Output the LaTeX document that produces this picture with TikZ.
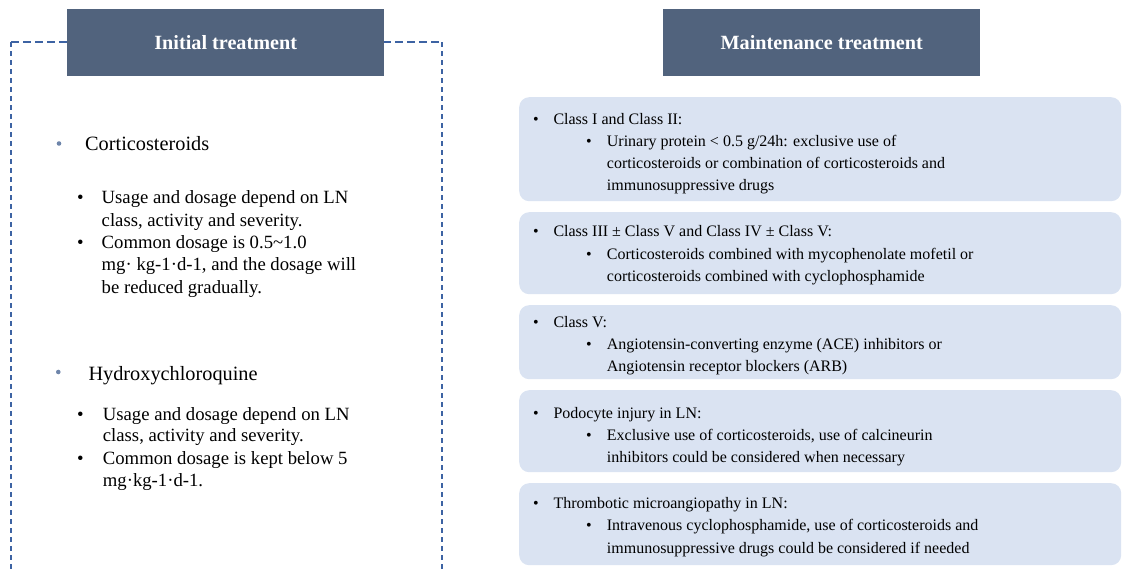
\documentclass[tikz,border=0pt]{standalone}
\usepackage{fontspec}
\setmainfont{Liberation Serif}
\definecolor{titlefill}{HTML}{51637D}
\definecolor{dashblue}{HTML}{3D63A3}
\definecolor{boxfill}{HTML}{DAE3F2}
\definecolor{headbullet}{HTML}{6E85AA}
\tikzset{
  titlebox/.style={fill=titlefill, draw=none, minimum width=317pt, minimum height=67pt, inner sep=0pt, anchor=north west, font=\fontsize{20.2}{24}\selectfont\bfseries, text=white},
  itembox/.style={fill=boxfill, draw=none, rounded corners=10pt, minimum width=602pt, inner sep=0pt, anchor=north west},
  rtxt/.style={anchor=base west, inner sep=0pt, font=\fontsize{16}{20}\selectfont},
  rbul/.style={anchor=base, inner sep=0pt, font=\fontsize{16}{20}\selectfont},
  ltxt/.style={anchor=base west, inner sep=0pt, font=\fontsize{18.7}{22}\selectfont},
  lbul/.style={anchor=base, inner sep=0pt, font=\fontsize{18.7}{22}\selectfont},
  lhead/.style={anchor=base west, inner sep=0pt, font=\fontsize{20.3}{24}\selectfont},
  hdot/.style={circle, fill=headbullet, draw=none, inner sep=0pt, minimum size=4.6pt},
  dashh/.style={draw=dashblue, line width=1.4pt, dash pattern=on 7.5pt off 4.5pt},
  dashv/.style={draw=dashblue, line width=1.4pt, dash pattern=on 5pt off 4pt},
}
\begin{document}
\begin{tikzpicture}[x=1pt,y=-1pt]
\useasboundingbox (0,0) rectangle (1122,570);
% dashed frame
\coordinate (fl0) at (11,570);
\coordinate (fl1) at (11,42);
\coordinate (fr1) at (442,42);
\coordinate (fr0) at (442,570);
\draw[dashh] (fl1) -- (fr1);
\draw[dashv] (fl1) -- (fl0);
\draw[dashv] (fr1) -- (fr0);
% titles
\node[titlebox] (tinit) at (67,9) {Initial treatment};
\node[titlebox] (tmaint) at (663,9) {Maintenance treatment};
% left column
\node[hdot] (hd1) at (59,143.5) {};
\node[lhead] (h1) at (85,150.7) {Corticosteroids};
\node[lbul] (l1b1) at (80.5,203.3) {•};
\node[ltxt] (l1a) at (101.5,203.3) {Usage and dosage depend on LN};
\node[ltxt] (l1b) at (101.5,226) {class, activity and severity.};
\node[lbul] (l1b2) at (80.5,248.3) {•};
\node[ltxt] (l1c) at (101.5,248.3) {Common dosage is 0.5\textasciitilde1.0};
\node[ltxt] (l1d) at (101.5,270.7) {mg· kg-1·d-1, and the dosage will};
\node[ltxt] (l1e) at (101.5,293.3) {be reduced gradually.};
\node[hdot] (hd2) at (58.3,372) {};
\node[lhead] (h2) at (88.3,380.5) {Hydroxychloroquine};
\node[lbul] (l2b1) at (80.5,420) {•};
\node[ltxt] (l2a) at (102.7,420) {Usage and dosage depend on LN};
\node[ltxt] (l2b) at (102.7,441.8) {class, activity and severity.};
\node[lbul] (l2b2) at (80.5,464) {•};
\node[ltxt] (l2c) at (102.7,464) {Common dosage is kept below 5};
\node[ltxt] (l2d) at (102.7,486.3) {mg·kg-1·d-1.};
% right boxes
\node[itembox, minimum height=104pt] (b1) at (519,97) {};
\node[itembox, minimum height=82pt] (b2) at (519,212) {};
\node[itembox, minimum height=74pt] (b3) at (519,305) {};
\node[itembox, minimum height=82pt] (b4) at (519,390) {};
\node[itembox, minimum height=82pt] (b5) at (519,483) {};
% box 1
\node[rbul] (b1p) at (536,124) {•};
\node[rtxt] (b1t) at (553.3,124) {Class I and Class II:};
\node[rbul] (b1q) at (589,146) {•};
\node[rtxt] (b1u) at (606.7,146) {Urinary protein < 0.5 g/24h: exclusive use of};
\node[rtxt] (b1v) at (606.7,168.2) {corticosteroids or combination of corticosteroids and};
\node[rtxt] (b1w) at (606.7,190.5) {immunosuppressive drugs};
% box 2
\node[rbul] (b2p) at (536,236.5) {•};
\node[rtxt] (b2t) at (553.3,236.5) {Class III ± Class V and Class IV ± Class V:};
\node[rbul] (b2q) at (589,259) {•};
\node[rtxt] (b2u) at (606.7,259) {Corticosteroids combined with mycophenolate mofetil or};
\node[rtxt] (b2v) at (606.7,281.5) {corticosteroids combined with cyclophosphamide};
% box 3
\node[rbul] (b3p) at (536,327) {•};
\node[rtxt] (b3t) at (553.3,327) {Class V:};
\node[rbul] (b3q) at (589,349) {•};
\node[rtxt] (b3u) at (606.7,349) {Angiotensin-converting enzyme (ACE) inhibitors or};
\node[rtxt] (b3v) at (606.7,371.5) {Angiotensin receptor blockers (ARB)};
% box 4
\node[rbul] (b4p) at (536,418.3) {•};
\node[rtxt] (b4t) at (553.3,418.3) {Podocyte injury in LN:};
\node[rbul] (b4q) at (589,440) {•};
\node[rtxt] (b4u) at (606.7,440) {Exclusive use of corticosteroids, use of calcineurin};
\node[rtxt] (b4v) at (606.7,462) {inhibitors could be considered when necessary};
% box 5
\node[rbul] (b5p) at (536,508.5) {•};
\node[rtxt] (b5t) at (553.3,508.5) {Thrombotic microangiopathy in LN:};
\node[rbul] (b5q) at (589,530.5) {•};
\node[rtxt] (b5u) at (606.7,530.5) {Intravenous cyclophosphamide, use of corticosteroids and};
\node[rtxt] (b5v) at (606.7,553) {immunosuppressive drugs could be considered if needed};
\end{tikzpicture}
\end{document}
